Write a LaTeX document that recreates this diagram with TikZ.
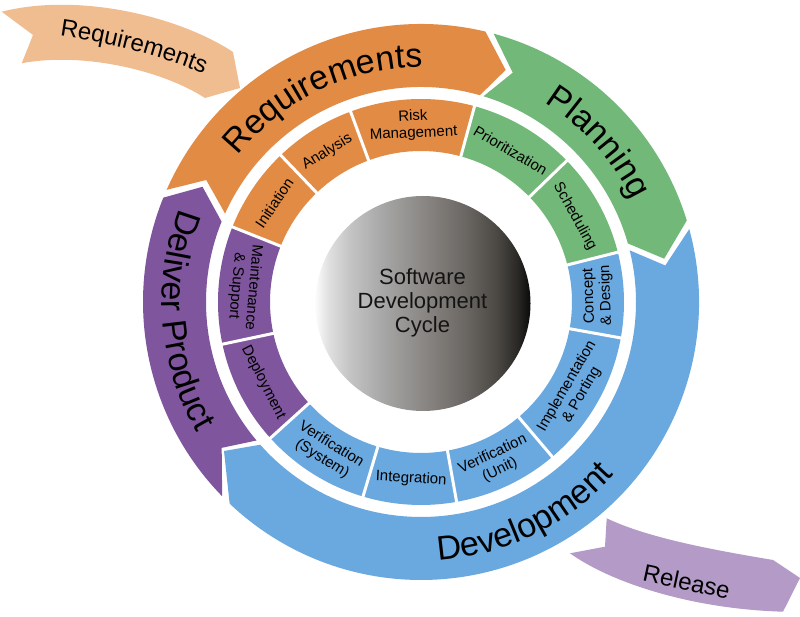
\documentclass[tikz,border=0pt]{standalone}
\usepackage{fontspec}
\setmainfont{Liberation Sans}
\usetikzlibrary{decorations.text}

\definecolor{corange}{HTML}{E28B45}
\definecolor{cgreen}{HTML}{72B878}
\definecolor{cblue}{HTML}{6AA8E0}
\definecolor{cpurple}{HTML}{7F559D}
\definecolor{clorange}{HTML}{F0BD91}
\definecolor{clpurple}{HTML}{B49BC7}
\definecolor{sA}{HTML}{FBFBFB}
\definecolor{sB}{HTML}{E0E0E0}
\definecolor{sC}{HTML}{C4C4C4}
\definecolor{sD}{HTML}{A9A9A9}
\definecolor{sE}{HTML}{8A8784}
\definecolor{sF}{HTML}{6A6763}
\definecolor{sG}{HTML}{4C4945}
\definecolor{sH}{HTML}{2A2826}
\definecolor{sI}{HTML}{0A0A0A}

\pgfdeclarehorizontalshading{sphereshade}{100bp}{color(0bp)=(sA); color(25bp)=(sA); color(28bp)=(sB); color(33bp)=(sC); color(40bp)=(sD); color(50bp)=(sE); color(60bp)=(sF); color(67bp)=(sG); color(72bp)=(sH); color(75bp)=(sI); color(100bp)=(sI)}

\newcommand\bigfnt{\fontsize{34}{40}\selectfont}
\newcommand\midfnt{\fontsize{24}{28}\selectfont}

% color, tail-out, tail-in, notch, head-out, head-in, tip
\newcommand\ringarrow[7]{%
  \fill[#1] (#2:278) arc[start angle=#2, end angle=#5, radius=278pt] -- (#7:247)
    -- (#6:215) arc[start angle=#6, end angle=#3, radius=215pt] -- (#4:247) -- cycle;}
% color, from, to
\newcommand\ringseg[3]{%
  \fill[#1] (#2:203) arc[start angle=#2, end angle=#3, radius=203pt]
    -- (#3:151) arc[start angle=#3, end angle=#2, radius=151pt] -- cycle;}

\tikzset{
  seglab/.style={font=\fontsize{15}{17}\selectfont, align=center, text=black, inner sep=0pt},
  seggap/.style={white, line width=3pt},
}

\begin{document}
\begin{tikzpicture}[x=1pt,y=1pt]
\useasboundingbox (0,0) rectangle (800,617);
\fill[white] (0,0) rectangle (800,617);

% incoming Requirements arrow
\fill[clorange] (1.7,605.3) .. controls (80,625) and (180,600) .. (233,565) -- (240,529) -- (205,519)
  .. controls (160,548) and (80,565) .. (21.7,553.7) -- (33,582) -- cycle;
\path[decorate, decoration={text along path, text align=center, text={|\midfnt|Requirements}}]
  (28,585) .. controls (88,580) and (168,562) .. (233,530);

% outgoing Release arrow
\fill[clpurple] (606.7,98.7) -- (605,70.3) -- (570,63.7) .. controls (610,35) and (690,8) .. (783,5.3)
  -- (800,39) -- (773,57) .. controls (720,66) and (650,78) .. (606.7,98.7) -- cycle;
\node[font=\midfnt, rotate=-12, inner sep=0pt] (release) at (686.7,35.3) {Release};

\begin{scope}[shift={(421,315)}]
  % outer band arrows
  \ringarrow{corange}{156.2}{155.7}{150.4}{76.6}{74.1}{69.96}
  \ringarrow{cgreen}{74.85}{73.1}{68.2}{17.05}{15.8}{10.1}
  \ringarrow{cblue}{15.2}{13.9}{8.5}{-133.5}{-138.4}{-142.9}
  \ringarrow{cpurple}{-135.67}{-139.9}{-143.8}{-202.05}{-201.95}{-207.8}

  \path[decorate, decoration={text along path, text align=center, text={|\bigfnt|Requirements}}]
    (155.5:234.5) arc[start angle=155.5, end angle=75.5, radius=234.5pt];
  \path[decorate, decoration={text along path, text align=center, text={|\bigfnt|Planning}}]
    (72:234.5) arc[start angle=72, end angle=12, radius=234.5pt];
  \path[decorate, decoration={text along path, text align=center, text={|\bigfnt|Development}}]
    (-114:259) arc[start angle=-114, end angle=-14, radius=259pt];
  \path[decorate, decoration={text along path, text align=center, text={|\bigfnt|Deliver Product}}]
    (134.5:259) arc[start angle=134.5, end angle=234.5, radius=259pt];

  % inner ring segments
  \ringseg{corange}{158.3}{133.7}
  \ringseg{corange}{133.7}{110.3}
  \ringseg{corange}{110.3}{74.7}
  \ringseg{cgreen}{74.7}{44.1}
  \ringseg{cgreen}{44.1}{14.2}
  \ringseg{cblue}{14.2}{-10.2}
  \ringseg{cblue}{-10.2}{-49.7}
  \ringseg{cblue}{-49.7}{-79.9}
  \ringseg{cblue}{-79.9}{-106.6}
  \ringseg{cblue}{-106.6}{-137.9}
  \ringseg{cpurple}{-137.9}{-168}
  \ringseg{cpurple}{-168}{-201.7}
  \foreach \a in {158.3,133.7,110.3,74.7,44.1,14.2,-10.2,-49.7,-79.9,-106.6,-137.9,-168}
    \draw[seggap] (\a:148) -- (\a:206);

  \node[seglab, rotate=56] (initiation) at (146:177) {Initiation};
  \node[seglab, rotate=32] (analysis) at (122:177) {Analysis};
  \node[seglab, rotate=2.5] (risk) at (92.5:177) {Risk\\Management};
  \node[seglab, rotate=-30.6] (prior) at (59.4:176) {Prioritization};
  \node[seglab, rotate=-60.9] (sched) at (29.1:176) {Scheduling};
  \node[seglab, rotate=92] (concept) at (2:177) {Concept\\\& Design};
  \node[seglab, rotate=60] (impl) at (-30:177) {Implementation\\\& Porting};
  \node[seglab, rotate=25.2] (verunit) at (-64.8:177) {Verification\\(Unit)};
  \node[seglab, rotate=-3.2] (integ) at (-93.2:177) {Integration};
  \node[seglab, rotate=-32.2] (versys) at (-122.2:177) {Verification\\(System)};
  \node[seglab, rotate=-63] (deploy) at (-153:177) {Deployment};
  \node[seglab, rotate=-94.9] (maint) at (-184.9:177) {Maintenance\\\& Support};
\end{scope}

% central sphere
\shade[shading=sphereshade] (423,313.5) circle[radius=107.5pt];
\node[align=center, font=\fontsize{22}{24}\selectfont, text=black!92, inner sep=0pt] (center) at (422.5,314)
  {Software\\Development\\Cycle};
\end{tikzpicture}
\end{document}
